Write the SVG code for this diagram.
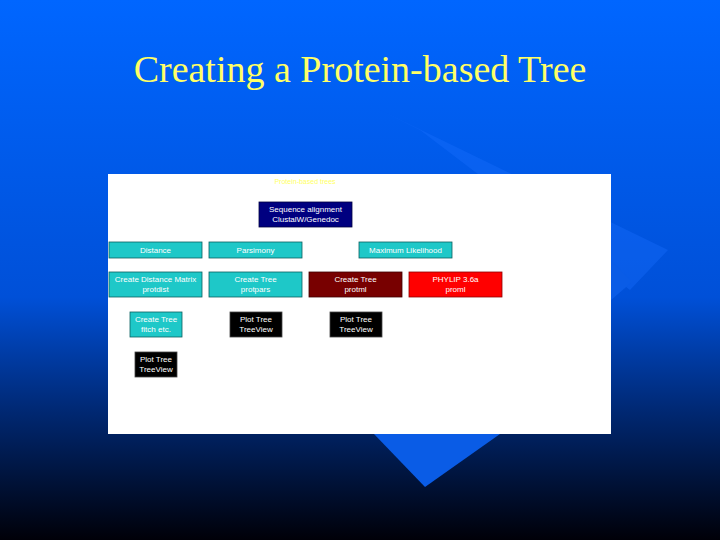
<svg xmlns="http://www.w3.org/2000/svg" width="720" height="540" viewBox="0 0 720 540">
<defs>
<linearGradient id="bg" x1="0" y1="0" x2="0" y2="1">
<stop offset="0" stop-color="#0066ff"/><stop offset="0.55" stop-color="#0050d8"/><stop offset="0.75" stop-color="#002a78"/><stop offset="1" stop-color="#000008"/>
</linearGradient>
<style>
text{font-family:"Liberation Sans",Arial,sans-serif;font-size:8px;text-anchor:middle;fill:#fff}
.c{fill:#1ec8c8;stroke:#0a6060;stroke-width:0.8}
.n{fill:#000080;stroke:#000040;stroke-width:0.8}
.d{fill:#780000;stroke:#400000;stroke-width:0.8}
.r{fill:#ff0000;stroke:#900000;stroke-width:0.8}
.k{fill:#000;stroke:#444;stroke-width:0.8}
</style>
</defs>
<rect width="720" height="540" fill="url(#bg)"/>
<polygon points="380,110 668,250 630,290 420,130" fill="#1a70ff" opacity="0.35"/>
<polygon points="374,434 500,434 425,487" fill="#0a5ce6"/>
<polygon points="611,260 632,282 611,300" fill="#0a5ce6"/>
<text x="360" y="82" style="font-family:'Liberation Serif','Times New Roman',serif;font-size:38px;fill:#ffff66">Creating a Protein-based Tree</text>
<rect x="108" y="174" width="503" height="260" fill="#fff"/>
<text x="305" y="184" style="fill:#ffff66;font-size:7px">Protein-based trees</text>
<g id="seq"><rect class="n" x="259" y="202" width="93" height="25"/><text x="305.5" y="212">Sequence alignment</text><text x="305.5" y="222">ClustalW/Genedoc</text></g>
<g id="dist"><rect class="c" x="109" y="242" width="93" height="16"/><text x="155.5" y="253">Distance</text></g>
<g id="pars"><rect class="c" x="209" y="242" width="93" height="16"/><text x="255.5" y="253">Parsimony</text></g>
<g id="ml"><rect class="c" x="359" y="242" width="93" height="16"/><text x="405.5" y="253">Maximum Likelihood</text></g>
<g id="cdm"><rect class="c" x="109" y="272" width="93" height="25"/><text x="155.5" y="282">Create Distance Matrix</text><text x="155.5" y="292">protdist</text></g>
<g id="ctp"><rect class="c" x="209" y="272" width="93" height="25"/><text x="255.5" y="282">Create Tree</text><text x="255.5" y="292">protpars</text></g>
<g id="ctml"><rect class="d" x="309" y="272" width="93" height="25"/><text x="355.5" y="282">Create Tree</text><text x="355.5" y="292">protml</text></g>
<g id="phy"><rect class="r" x="409" y="272" width="93" height="25"/><text x="455.5" y="282">PHYLIP 3.6a</text><text x="455.5" y="292">proml</text></g>
<g id="fitch"><rect class="c" x="130" y="312" width="52" height="25"/><text x="156" y="322">Create Tree</text><text x="156" y="332">fitch etc.</text></g>
<g id="pt2"><rect class="k" x="230" y="312" width="52" height="25"/><text x="256" y="322">Plot Tree</text><text x="256" y="332">TreeView</text></g>
<g id="pt3"><rect class="k" x="330" y="312" width="52" height="25"/><text x="356" y="322">Plot Tree</text><text x="356" y="332">TreeView</text></g>
<g id="pt1"><rect class="k" x="135" y="352" width="42" height="25"/><text x="156" y="362">Plot Tree</text><text x="156" y="372">TreeView</text></g>
<g id="connectors"/>
</svg>
